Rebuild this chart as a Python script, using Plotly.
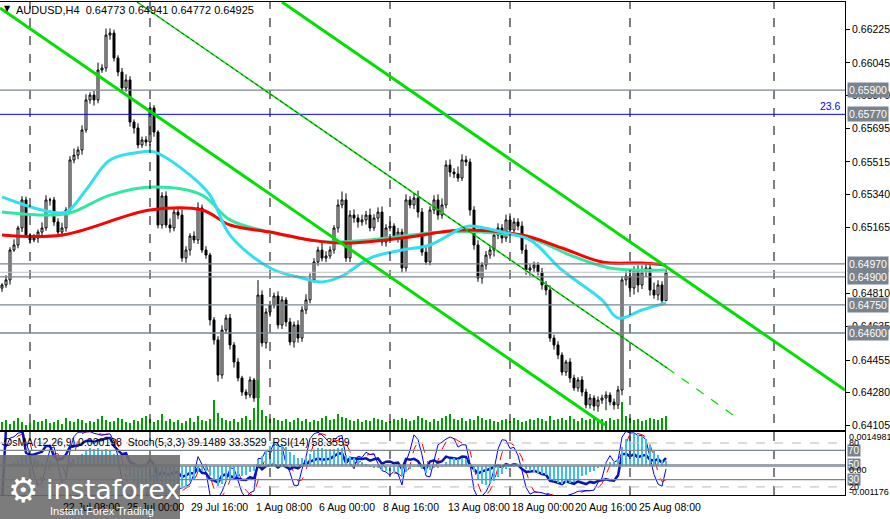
import numpy as np
import pandas as pd
import plotly.graph_objects as go

# ---------------- data ----------------
closes_pts = [
 64857,64884,65044,65071,65162,65312,65124,65098,65108,65140,
 65162,65312,65312,65194,65140,65162,65258,65526,65552,65579,
 65686,65847,65873,65847,66007,66018,66194,66205,66071,65996,
 65911,65954,65729,65697,65606,65633,65622,65804,65675,65178,
 65333,65178,65162,65247,65231,65001,65044,65119,65098,65269,
 65044,65017,64670,64563,64375,64616,64680,64536,64445,64359,
 64284,64268,64349,64252,64803,64547,64712,64750,64798,64643,
 64777,64659,64552,64643,64573,64723,64777,64884,64980,65044,
 65001,65012,65044,65162,65285,65312,65001,65231,65215,65194,
 65205,65231,65162,65215,65247,65087,65162,65172,65119,65140,
 64948,65312,65285,65322,65247,65033,64980,65258,65312,65231,
 65285,65499,65461,65451,65429,65526,65515,65258,65071,64894,
 64964,65017,65044,65124,65162,65108,65205,65151,65194,65172,
 65044,64937,64948,64964,64926,64857,64830,64573,64536,64482,
 64391,64445,64359,64306,64349,64284,64215,64252,64209,64241,
 64252,64268,64231,64215,64295,64884,64905,64841,64937,64857,
 64926,64948,64830,64803,64857,64773,64925]
first_open_pts = 64840
upper_wick_pts = [
 10,25,15,30,12,20,18,10,22,14, 30,25,12,16,20,28,15,20,35,18,
 25,30,15,22,40,20,35,25,18,15, 22,30,20,14,25,18,20,30,15,10,
 20,25,35,18,22,30,20,15,25,30, 18,20,12,15,20,25,18,22,15,20,
 12,15,18,10,80,25,20,22,18,25, 20,15,22,18,25,20,30,35,20,18,
 40,25,20,15,30,45,35,25,30,20, 28,22,35,20,25,30,20,25,15,22,
 18,30,20,25,40,22,28,20,25,30, 35,25,30,20,40,30,22,18,20,25,
 15,22,20,30,25,20,28,35,22,20, 25,30,20,18,15,22,20,25,18,20,
 15,12,20,18,15,20,18,22,15,20, 18,20,15,18,22,20,25,30,20,25,
 35,20,22,40,25,20,16]
lower_wick_pts = [
 20,15,25,10,18,22,15,20,12,25, 18,15,30,20,12,25,20,15,18,22,
 25,15,20,30,18,15,20,25,18,22, 15,20,25,30,18,15,22,20,25,18,
 20,15,25,18,22,20,25,30,18,22, 15,20,30,25,35,20,22,25,30,18,
 20,22,15,20,25,20,30,25,18,20, 22,25,18,30,25,20,22,18,15,20,
 18,22,15,20,25,18,20,22,25,30, 20,25,18,15,22,20,25,18,20,35,
 25,20,18,22,30,20,15,18,22,25, 20,18,25,22,20,15,22,30,25,20,
 30,25,20,35,22,28,20,25,30,22, 20,25,30,22,18,25,28,20,25,22,
 18,20,25,15,20,22,18,20,25,30, 20,65,18,25,22,28,30,20,35,40,
 22,25,30,20,28,25,1]
volume = [
 8,10,6,9,12,8,5,7,10,8, 9,11,7,8,10,6,12,9,8,11,
 10,7,9,8,11,14,10,8,9,12, 11,8,7,10,9,12,14,11,8,10,
 16,9,11,8,10,7,9,12,8,14, 10,9,11,30,17,12,10,9,11,8,
 12,14,10,22,50,20,14,11,12,10, 9,11,8,10,12,9,11,8,10,9,
 12,14,10,11,16,13,12,10,9,11, 8,10,9,12,11,10,8,9,11,10,
 12,11,9,10,14,12,10,8,11,9, 12,14,16,11,10,12,9,11,10,14,
 12,10,11,9,8,10,11,9,12,10, 8,9,11,10,12,11,9,14,10,11,
 12,10,14,11,9,12,10,11,13,10, 11,9,12,10,11,28,14,12,10,11,
 9,10,12,11,10,12,14]

# moving averages (sparse vertices: bar index, price)
ma_red_x = [0,15,37,50,57,67,77,85,100,115,130,140,150,160,166]
ma_red_y = [0.65124,0.65124,0.65258,0.65258,0.65178,0.65140,0.65098,0.65081,0.65108,0.65151,0.65124,0.65055,0.64980,0.64974,0.64964]
ma_teal_x = [0,10,17,27,38,50,57,67,82,110,120,132,142,152,166]
ma_teal_y = [0.65247,0.65231,0.65242,0.65338,0.65381,0.65338,0.65205,0.65140,0.65087,0.65140,0.65140,0.65108,0.65017,0.64948,0.64937]
ma_cyan_x = [0,10,16,21,27,35,38,47,52,57,67,75,80,85,92,100,107,115,117,125,132,140,150,154,160,166]
ma_cyan_y = [0.65328,0.65258,0.65247,0.65365,0.65526,0.65569,0.65569,0.65445,0.65338,0.65124,0.64948,0.64894,0.64873,0.64905,0.65001,0.65044,0.65071,0.65162,0.65172,0.65140,0.65098,0.64937,0.64777,0.64680,0.64723,0.64761]

# channel lines: (x0, y0, x1, y1) in bar index / price
channel_lower = (-0.5, 0.66339, 150.75, 0.64108)
channel_upper = (70.0, 0.66371, 210.75, 0.64295)
channel_mid = (33.75, 0.66371, 166.25, 0.64413)
channel_mid_ext = (166.25, 0.64413, 184.5, 0.64135)

levels_gray = [0.65900, 0.64970, 0.64900, 0.64750, 0.64600]
level_fibo = 0.65770
last_price = 0.64925
price_ticks = [0.66225,0.66045,0.65870,0.65695,0.65515,0.65340,0.65165,0.64810,0.64635,0.64455,0.64280,0.64105]
vgrid_bars = [7,37,67,97,127,157,193]
time_ticks = [-1.25,14.75,30.75,46.75,63,78.75,94.75,111,127,142.75,158.75]
time_labels = ["17 Jul 2025","22 Jul 08:00","25 Jul 00:00","29 Jul 16:00","1 Aug 08:00","6 Aug 00:00",
               "8 Aug 16:00","13 Aug 08:00","18 Aug 00:00","20 Aug 16:00","25 Aug 08:00"]

# ---------------- build OHLC ----------------
c = np.array(closes_pts) / 1e5
o = np.concatenate([[first_open_pts / 1e5], c[:-1]])
h = np.maximum(o, c) + np.array(upper_wick_pts) / 1e5
l = np.minimum(o, c) - np.array(lower_wick_pts) / 1e5
n = len(c)
idx = np.arange(n)

cs = pd.Series(c); hs = pd.Series(h); ls = pd.Series(l)
ema12 = cs.ewm(span=12, adjust=False).mean()
ema26 = cs.ewm(span=26, adjust=False).mean()
macd = ema12 - ema26
osma = macd - macd.rolling(9, min_periods=1).mean()
ll = ls.rolling(5, min_periods=1).min(); hh = hs.rolling(5, min_periods=1).max()
k = 100 * (cs - ll).rolling(3, min_periods=1).sum() / (hh - ll).rolling(3, min_periods=1).sum()
d = k.rolling(3, min_periods=1).mean()
delta = cs.diff().fillna(0)
up = delta.clip(lower=0).ewm(alpha=1/14, adjust=False).mean()
dn = (-delta.clip(upper=0)).ewm(alpha=1/14, adjust=False).mean()
rsi = 100 - 100 / (1 + up / dn.replace(0, 1e-9))

# ---------------- figure ----------------
W, H = 890, 519
ML, MR, MT, MB = 0, 45, 2, 22
PH = H - MT - MB
PW = W - ML - MR
def py(px):  # pixel y -> paper
    return (H - MB - px) / PH
FONT = "Liberation Sans"
fig = go.Figure()

fig.add_trace(go.Bar(x=idx, y=volume, marker_color="#00a000", marker_line_width=0,
                     width=0.3, xaxis="x", yaxis="y3", showlegend=False, hoverinfo="skip"))
fig.add_trace(go.Candlestick(x=idx, open=o, high=h, low=l, close=c, xaxis="x", yaxis="y",
    increasing=dict(line=dict(color="black", width=1), fillcolor="white"),
    decreasing=dict(line=dict(color="black", width=1), fillcolor="black"),
    whiskerwidth=0, showlegend=False))
fig.add_trace(go.Scatter(x=ma_teal_x, y=ma_teal_y, mode="lines", line=dict(color="#30e8a0", width=3, shape="spline"),
                         xaxis="x", yaxis="y", showlegend=False))
fig.add_trace(go.Scatter(x=ma_red_x, y=ma_red_y, mode="lines", line=dict(color="#ff0000", width=3, shape="spline"),
                         xaxis="x", yaxis="y", showlegend=False))
fig.add_trace(go.Scatter(x=ma_cyan_x, y=ma_cyan_y, mode="lines", line=dict(color="#30e0f0", width=3, shape="spline"),
                         xaxis="x", yaxis="y", showlegend=False))

fig.add_trace(go.Bar(x=idx, y=osma, marker_color="#3cc0ee", marker_line_width=0, width=0.6,
                     xaxis="x2", yaxis="y4", showlegend=False))
fig.add_trace(go.Scatter(x=idx, y=d, mode="lines", line=dict(color="#ff0000", width=1, dash="dash"),
                         xaxis="x2", yaxis="y2", showlegend=False))
fig.add_trace(go.Scatter(x=idx, y=k, mode="lines", line=dict(color="#0000ff", width=1),
                         xaxis="x2", yaxis="y2", showlegend=False))
fig.add_trace(go.Scatter(x=idx, y=rsi, mode="lines", line=dict(color="#0c14b4", width=2.5),
                         xaxis="x2", yaxis="y2", showlegend=False))

shapes = []
for v in vgrid_bars:
    shapes.append(dict(type="line", xref="x", yref="paper", x0=v, x1=v, y0=py(495), y1=1,
                       line=dict(color="black", width=1, dash="dash")))
for lv in levels_gray:
    shapes.append(dict(type="line", xref="x domain", yref="y", x0=0, x1=1, y0=lv, y1=lv,
                       line=dict(color="#7a8590", width=1.3)))
shapes.append(dict(type="line", xref="x domain", yref="y", x0=0, x1=1, y0=last_price, y1=last_price,
                   line=dict(color="#c0c0c0", width=1)))
shapes.append(dict(type="line", xref="x domain", yref="y", x0=0, x1=1, y0=level_fibo, y1=level_fibo,
                   line=dict(color="#0000ff", width=1)))
for (x0, y0, x1, y1) in [channel_lower, channel_upper]:
    shapes.append(dict(type="line", xref="x", yref="y", x0=x0, y0=y0, x1=x1, y1=y1,
                       line=dict(color="#00e000", width=3)))
x0, y0, x1, y1 = channel_mid
shapes.append(dict(type="line", xref="x", yref="y", x0=x0, y0=y0, x1=x1, y1=y1, line=dict(color="#00e000", width=1.5)))
shapes.append(dict(type="line", xref="x", yref="y", x0=x0, y0=y0, x1=x1, y1=y1, line=dict(color="black", width=0.6, dash="dot")))
x0, y0, x1, y1 = channel_mid_ext
shapes.append(dict(type="line", xref="x", yref="y", x0=x0, y0=y0, x1=x1, y1=y1, line=dict(color="#00e000", width=1.2, dash="dash")))
for lv, dash, col in [(80, "dash", "#b8b8b8"), (70, "solid", "#7a8590"), (50, "solid", "#7a8590"),
                      (30, "solid", "#7a8590"), (20, "dash", "#b8b8b8")]:
    shapes.append(dict(type="line", xref="x2 domain", yref="y2", x0=0, x1=1, y0=lv, y1=lv,
                       line=dict(color=col, width=1.3 if dash == "solid" else 1, dash=dash)))
shapes.append(dict(type="line", xref="x2 domain", yref="y4", x0=0, x1=1, y0=0, y1=0,
                   line=dict(color="#7a8590", width=1.3)))
shapes.append(dict(type="rect", xref="paper", yref="paper", x0=0, x1=180/PW, y0=py(519), y1=py(455),
                   fillcolor="rgba(110,110,110,0.9)", line_width=0, layer="above"))

ann = []
ann.append(dict(xref="paper", yref="paper", x=14/PW, y=py(10), text="AUDUSD,H4  0.64773 0.64941 0.64772 0.64925",
                showarrow=False, xanchor="left", yanchor="middle", font=dict(family=FONT, size=11, color="black")))
ann.append(dict(xref="paper", yref="paper", x=2/PW, y=py(9), text="▼", showarrow=False, xanchor="left",
                yanchor="middle", font=dict(family="DejaVu Sans", size=8, color="black")))
ann.append(dict(xref="paper", yref="paper", x=2/PW, y=py(442),
                text="OsMA(12,26,9) 0.000198  Stoch(5,3,3) 39.1489 33.3529  RSI(14) 58.3559",
                showarrow=False, xanchor="left", yanchor="middle", font=dict(family=FONT, size=10.5, color="black")))
lab_x = 847/PW
for lv in levels_gray + [level_fibo]:
    ann.append(dict(xref="paper", yref="y", x=lab_x, y=lv, text=f"{lv:.5f}", showarrow=False, xanchor="left",
                    yanchor="middle", bgcolor="#79838e", font=dict(family=FONT, size=10.5, color="white"), borderpad=1))
ann.append(dict(xref="paper", yref="y", x=843/PW, y=level_fibo, text="23.6", showarrow=False, xanchor="right",
                yanchor="bottom", font=dict(family=FONT, size=10.5, color="#0000ff")))
for lv in [70, 50, 30]:
    ann.append(dict(xref="paper", yref="y2", x=lab_x, y=lv, text=str(lv), showarrow=False, xanchor="left",
                    yanchor="middle", bgcolor="#79838e", font=dict(family=FONT, size=10, color="white"), borderpad=0))
for lv in [80, 20]:
    ann.append(dict(xref="paper", yref="y2", x=lab_x, y=lv, text=str(lv), showarrow=False, xanchor="left",
                    yanchor="middle", font=dict(family=FONT, size=9, color="black")))
for txt, pxy in [("0.0014981", 437), ("0.00", 470), ("-0.001176", 492)]:
    ann.append(dict(xref="paper", yref="paper", x=lab_x, y=py(pxy), text=txt, showarrow=False, xanchor="left",
                    yanchor="middle", font=dict(family=FONT, size=9, color="black")))
for tv, tl in zip(time_ticks, time_labels):
    ann.append(dict(xref="x2", yref="paper", x=tv, y=py(507), text=tl, showarrow=False, xanchor="left",
                    yanchor="middle", font=dict(family=FONT, size=10.5, color="black")))
ann.append(dict(xref="paper", yref="paper", x=6/PW, y=py(490), text="⚙", showarrow=False, xanchor="left",
                yanchor="middle", font=dict(family="DejaVu Sans", size=34, color="white")))
ann.append(dict(xref="paper", yref="paper", x=44/PW, y=py(489), text="instaforex", showarrow=False, xanchor="left",
                yanchor="middle", font=dict(family="DejaVu Sans", size=27, color="white")))
ann.append(dict(xref="paper", yref="paper", x=48/PW, y=py(511), text="Instant Forex Trading", showarrow=False,
                xanchor="left", yanchor="middle", font=dict(family=FONT, size=11, color="white")))

xr = [-0.5, 210.75]
fig.update_layout(
    width=W, height=H, margin=dict(l=ML, r=MR, t=MT, b=MB),
    paper_bgcolor="white", plot_bgcolor="white", showlegend=False, bargap=0,
    xaxis=dict(domain=[0, 1], range=xr, showticklabels=False, showgrid=False, zeroline=False,
               rangeslider=dict(visible=False), showline=True, mirror=True, linecolor="black", anchor="y"),
    yaxis=dict(domain=[py(430), 1], range=[0.64081, 0.66371], side="right", tickvals=price_ticks,
               ticktext=[f"{t:.5f}" for t in price_ticks], ticks="outside", ticklen=4, tickcolor="black",
               showgrid=False, zeroline=False, showline=True, mirror=True, linecolor="black", automargin=False,
               tickfont=dict(family=FONT, size=10.5, color="black"), anchor="x"),
    yaxis3=dict(domain=[py(430), 1], range=[0, 428], overlaying="y", visible=False),
    xaxis2=dict(domain=[0, 1], range=xr, showticklabels=False, showgrid=False, zeroline=False,
                showline=True, mirror=True, linecolor="black", anchor="y2"),
    yaxis2=dict(domain=[py(495), py(432)], range=[9, 95], showticklabels=False, showgrid=False, zeroline=False,
                showline=True, mirror=True, linecolor="black", anchor="x2"),
    yaxis4=dict(domain=[py(495), py(432)], overlaying="y2", visible=False,
                range=[float(osma.min()) * 1.05, float(osma.max()) * 1.05]),
    shapes=shapes, annotations=ann,
)
fig.write_html("out.html", config={"displayModeBar": False},
               post_script="document.body.style.margin='0';document.body.style.overflow='hidden';")
